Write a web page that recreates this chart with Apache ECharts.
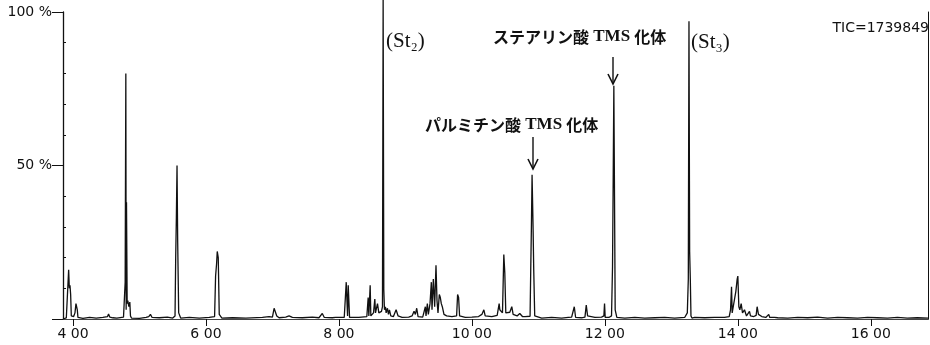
<!DOCTYPE html>
<html>
<head>
<meta charset="utf-8">
<script src="https://cdn.jsdelivr.net/npm/echarts@6/dist/echarts.min.js"></script>
<style>
html,body{margin:0;padding:0;background:#fff;}
#chart{width:930px;height:345px;}
</style>
</head>
<body>
<div id="chart"></div>
<script>
// Retention time (min) and relative abundance (%) of the TIC trace
var rtMin = [
3.85,3.90,3.925,3.935,3.945,3.955,3.965,3.975,4.01,4.03,4.045,4.055,4.065,4.075,4.15,4.25,4.35,4.45,4.52,4.535,4.555,4.60,4.63,4.66,
4.76,4.785,4.795,4.80,4.805,4.815,4.825,4.84,4.855,4.865,4.88,5.00,5.10,5.14,5.165,5.19,5.30,5.42,5.50,
5.535,5.545,5.555,5.565,5.575,5.59,5.62,5.75,5.90,6.05,6.13,6.145,6.16,6.17,6.185,6.20,6.24,6.40,6.60,6.85,6.95,7.00,
7.025,7.045,7.065,7.10,7.20,7.25,7.30,7.45,7.60,7.70,7.75,7.78,7.90,7.95,8.08,8.11,8.12,8.13,8.14,8.15,8.16,8.30,
8.42,8.44,8.45,8.47,8.48,8.52,8.54,8.55,8.58,8.60,8.64,8.655,8.665,8.675,8.685,8.70,8.71,8.73,8.745,8.76,8.78,8.82,8.86,8.89,
8.95,9.05,9.10,9.13,9.15,9.17,9.19,9.26,9.30,9.31,9.33,9.345,9.37,9.39,9.40,9.42,9.44,9.46,9.475,9.49,9.51,9.525,9.54,9.555,
9.58,9.62,9.70,9.77,9.785,9.80,9.815,9.90,10.00,10.10,10.15,10.18,10.20,10.30,10.38,10.41,10.42,10.44,10.46,10.48,10.495,10.51,
10.53,10.57,10.60,10.62,10.68,10.72,10.76,10.80,10.875,10.885,10.895,10.905,10.92,10.93,10.945,10.96,11.05,11.20,11.35,11.45,11.50,
11.52,11.54,11.56,11.65,11.70,11.72,11.74,11.76,11.85,11.95,11.985,11.995,12.005,12.06,12.10,12.115,12.125,12.135,12.145,12.155,
12.18,12.30,12.45,12.60,12.75,12.90,13.05,13.20,13.24,13.255,13.265,13.275,13.285,13.295,13.31,13.35,13.50,13.65,13.80,13.87,
13.89,13.905,13.915,13.94,13.97,13.99,14.00,14.015,14.03,14.05,14.07,14.085,14.10,14.13,14.16,14.175,14.19,14.24,14.275,14.29,
14.31,14.36,14.42,14.45,14.465,14.48,14.50,14.55,14.58,14.60,14.62,14.75,14.90,15.05,15.20,15.35,15.50,15.65,15.80,15.95,
16.10,16.25,16.40,16.55,16.70,16.86
];
var relAbundance = [
0,0.4,0.6,16,10,11,8,1,0.8,2,5,4.5,3,0.5,0.2,0.5,0.3,0.5,0.8,1.6,0.6,0.4,1,0.3,
0.6,12,80,3,38,5,6,4,5.5,1,0.3,0.2,0.5,0.8,1.5,0.5,0.4,0.6,0.3,
1,20,33,50,25,2,0.3,0.5,0.3,0.5,0.8,14,18,22,20,1.5,0.3,0.4,0.3,0.5,0.8,0.6,
3.5,4,1,0.4,0.6,1,0.5,0.4,0.6,0.4,1.8,0.5,0.4,0.5,0.5,12,11.5,1,11,11.5,0.5,0.5,
0.8,7,1,11,1,2,6.5,2,5,2,2.5,4,104,9.5,3,4,2,3.5,1.5,3,1,0.8,3,1,
0.5,0.6,1,2.5,1.5,3.5,0.8,0.6,4,1,5,1.5,5,12,3,13,4,17.5,6,2,8,7,5,4,
1.5,1,0.8,1,8,7,1,0.5,0.6,0.8,1.5,3,1,0.8,1.2,5,3,3.5,2,21,15,2,
1.5,2.2,4,1.5,1,1.8,0.8,0.8,0.9,16,30,47,30,16,1,0.5,0.3,0.5,0.3,0.5,0.6,
1,4,0.5,0.4,0.6,4.5,1,0.4,0.5,0.6,1,5,0.5,0.5,1,17,45,76,40,3,
0.5,0.3,0.5,0.3,0.4,0.5,0.3,0.5,2,13,97,22,13,1,0.3,0.5,0.4,0.5,0.5,0.8,
3,10.5,2,2.5,9,13,14,4,3,5,2,1.5,3,1,1,2.5,1,0.8,1.2,4,
1.5,0.8,0.5,0.6,1.5,0.5,0.4,0.5,0.3,0.4,0.6,0.3,0.5,0.4,0.6,0.3,0.5,0.4,0.3,0.5,
0.4,0.3,0.5,0.3,0.4,0.3
];
var xTickValues = [4,6,8,10,12,14,16];
var xTickLabels = ['4 00','6 00','8 00','10 00','12 00','14 00','16 00'];
var yTickValues = [50,100];
var yTickLabels = ['50 %','100 %'];
var ticText = 'TIC=1739849';
var st2Label = '(St₂)';
var st3Label = '(St₃)';
var stearicLabel = ['ステアリン酸',' TMS ','化体'];
var palmiticLabel = ['パルミチン酸',' TMS ','化体'];

var traceData = rtMin.map(function(t,i){return [t, relAbundance[i]];});
var X_MIN = 3.85, X_MAX = 16.86;

var chart = echarts.init(document.getElementById('chart'), null, {renderer:'canvas'});
var ink = '#111';
var sansFont = 'DejaVu Sans';

function jpRich(parts){
  return {
    text: '{k|' + parts[0] + '}{t|' + parts[1] + '}{k|' + parts[2] + '}',
    rich: {
      k: {fontFamily:'Noto Sans CJK JP', fontWeight:'bold', fontSize:16, fill:ink},
      t: {fontFamily:'Liberation Serif', fontWeight:'bold', fontSize:17, fill:ink}
    }
  };
}
function arrow(x, y1, y2){
  return {
    type:'group',
    children:[
      {type:'line', shape:{x1:x,y1:y1,x2:x,y2:y2}, style:{stroke:ink, lineWidth:1.4}},
      {type:'polyline', shape:{points:[[x-5,y2-10],[x,y2],[x+5,y2-10]]}, style:{stroke:ink, lineWidth:1.6, fill:null}}
    ]
  };
}

var opt = {
  animation:false,
  backgroundColor:'#fff',
  grid:{left:63, right:2, top:12, bottom:26},
  xAxis:[{
    type:'value', min:X_MIN, max:X_MAX,
    axisLine:{show:true, onZero:false, lineStyle:{color:ink, width:1}},
    axisTick:{show:true, customValues:xTickValues, length:7, lineStyle:{color:ink, width:1}},
    axisLabel:{show:true, customValues:xTickValues, margin:8, color:ink, fontFamily:sansFont, fontSize:14,
      formatter:function(v){var i = xTickValues.indexOf(Math.round(v)); return i>=0 ? xTickLabels[i] : '';}},
    splitLine:{show:false}
  },{
    type:'value', min:X_MIN, max:X_MAX, position:'top',
    axisLine:{show:true, lineStyle:{color:'#444', width:1}},
    axisTick:{show:false}, axisLabel:{show:false}, splitLine:{show:false}
  }],
  yAxis:[{
    type:'value', min:0, max:100, position:'left',
    axisLine:{show:true, lineStyle:{color:ink, width:1.3}},
    axisTick:{show:true, customValues:[0,50,100], length:11, lineStyle:{color:ink, width:1}},
    axisLabel:{show:true, customValues:yTickValues, margin:11, color:ink, fontFamily:sansFont, fontSize:14,
      formatter:function(v){var i = yTickValues.indexOf(Math.round(v)); return i>=0 ? yTickLabels[i] : '';}},
    splitLine:{show:false}
  },{
    type:'value', min:0, max:100, position:'left',
    axisLine:{show:false},
    axisTick:{show:true, inside:true, customValues:[10,20,30,40,60,70,80,90], length:3, lineStyle:{color:ink, width:1}},
    axisLabel:{show:false}, splitLine:{show:false}
  },{
    type:'value', min:0, max:100, position:'right',
    axisLine:{show:true, lineStyle:{color:ink, width:1}},
    axisTick:{show:false}, axisLabel:{show:false}, splitLine:{show:false}
  }],
  series:[{
    type:'line', xAxisIndex:0, yAxisIndex:0,
    data:traceData, showSymbol:false, symbol:'none', clip:false,
    lineStyle:{color:ink, width:1.3}, z:3
  }],
  graphic:[
    {type:'text', left:386, top:31, style:{text:st2Label, fontFamily:'Liberation Serif', fontSize:21, fill:ink}},
    {type:'text', left:691, top:32, style:{text:st3Label, fontFamily:'Liberation Serif', fontSize:21, fill:ink}},
    {type:'text', right:1, top:21, style:{text:ticText, fontFamily:sansFont, fontSize:14, fill:ink}},
    {type:'text', left:493, top:28, style:jpRich(stearicLabel)},
    {type:'text', left:425, top:116, style:jpRich(palmiticLabel)},
    arrow(613, 57, 84),
    arrow(533, 137, 169)
  ]
};
chart.setOption(opt);
</script>
</body>
</html>
